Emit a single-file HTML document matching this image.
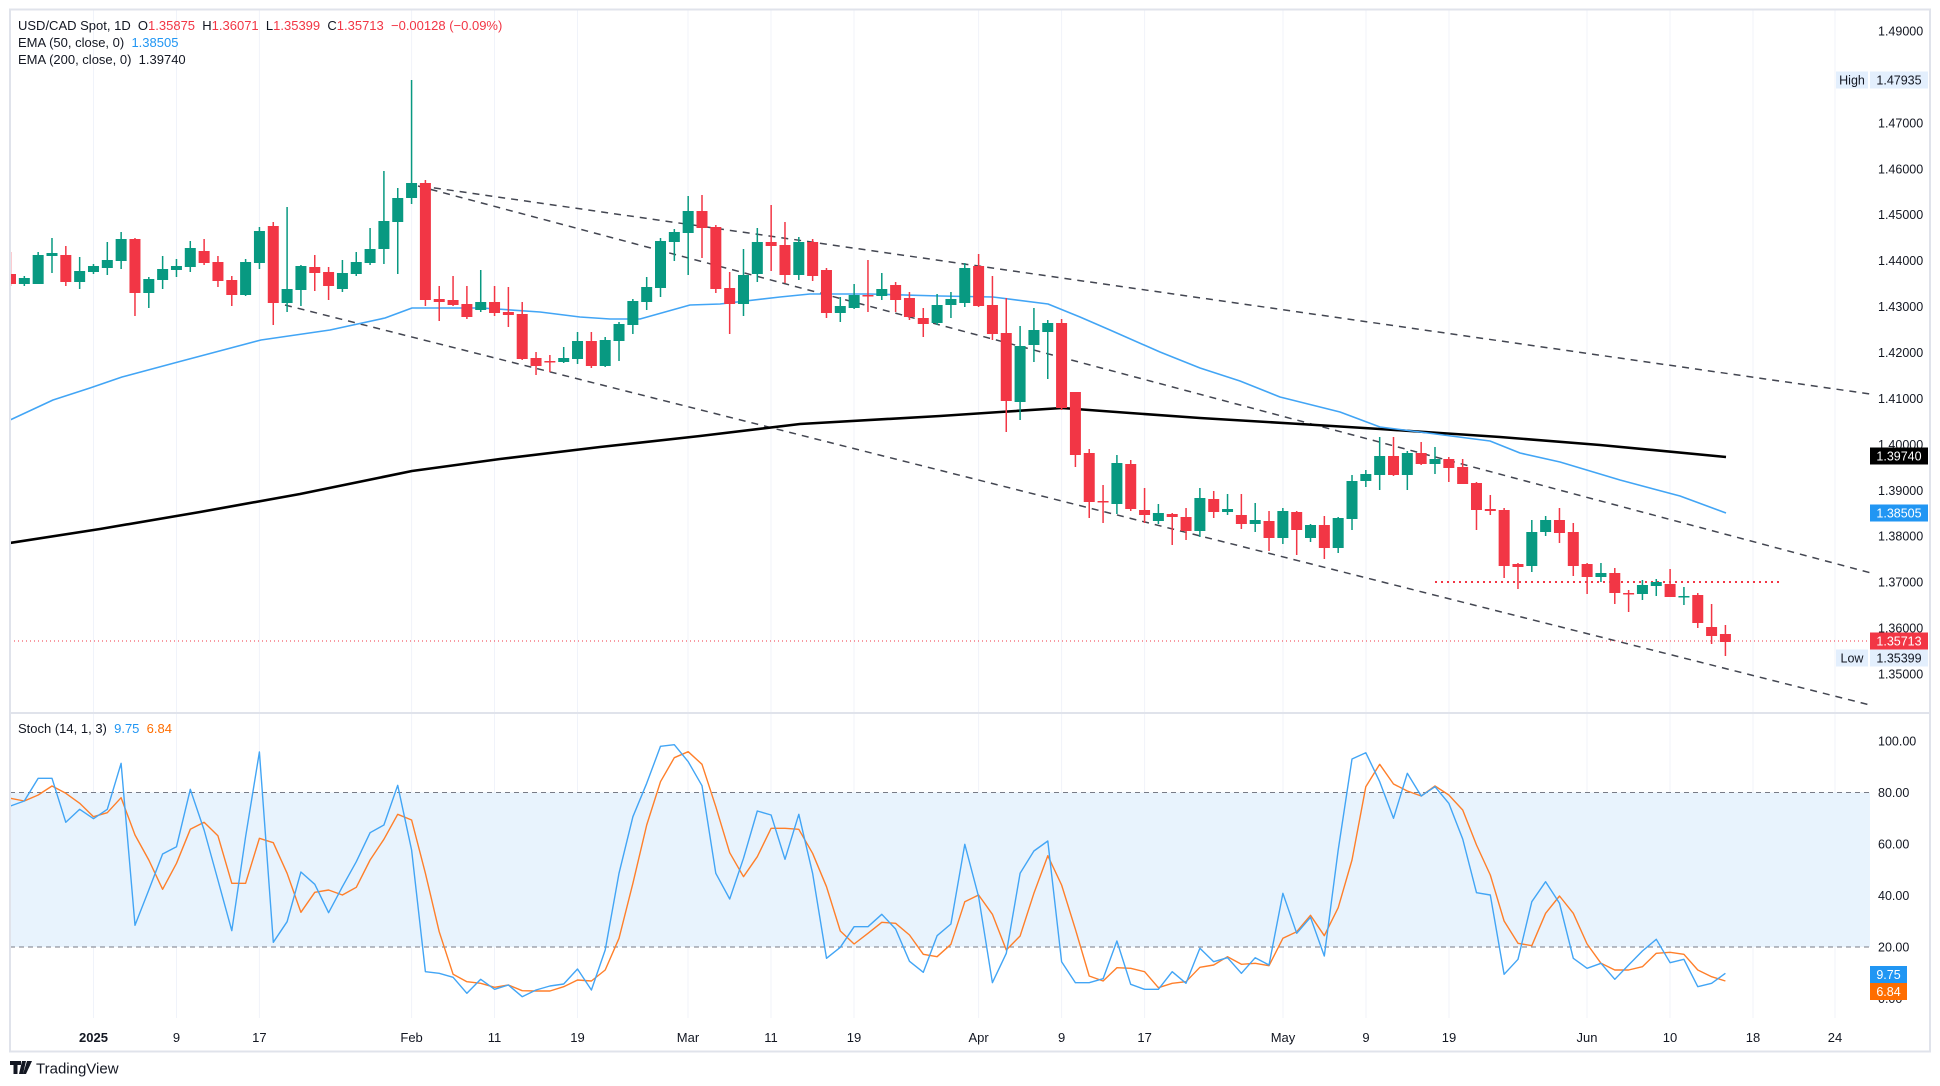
<!DOCTYPE html>
<html><head><meta charset="utf-8">
<style>
html,body{margin:0;padding:0;background:#fff;}
svg{display:block;font-family:"Liberation Sans",sans-serif;}
.pre{white-space:pre;}
</style></head>
<body>
<svg id="s" width="1940" height="1086" viewBox="0 0 1940 1086" xmlns="http://www.w3.org/2000/svg">
<defs>
<clipPath id="cm"><rect x="10" y="10" width="1860" height="703"/></clipPath>
<clipPath id="cs"><rect x="10" y="714" width="1860" height="300"/></clipPath>
</defs>
<rect x="0" y="0" width="1940" height="1086" fill="#fff"/>
<g id="grid"></g>
<rect x="10" y="792.5" width="1860" height="154.5" fill="#e8f3fd"/>
<line x1="10" y1="792.5" x2="1870" y2="792.5" stroke="#787b86" stroke-dasharray="5,4" stroke-width="1"/>
<line x1="10" y1="947" x2="1870" y2="947" stroke="#787b86" stroke-dasharray="5,4" stroke-width="1"/>
<g id="main" clip-path="url(#cm)"></g>
<g id="stoch" clip-path="url(#cs)"></g>
<g id="axis"></g>
<rect x="10" y="9.5" width="1920" height="1042" fill="none" stroke="#e0e3eb" stroke-width="2"/>
<line x1="10" y1="713" x2="1930" y2="713" stroke="#e0e3eb" stroke-width="2"/>
<g font-size="13" fill="#131722" class="pre">
<text x="18" y="30" class="pre">USD/CAD Spot, 1D  O<tspan fill="#f23645">1.35875</tspan>  H<tspan fill="#f23645">1.36071</tspan>  L<tspan fill="#f23645">1.35399</tspan>  C<tspan fill="#f23645">1.35713</tspan>  <tspan fill="#f23645">−0.00128 (−0.09%)</tspan></text>
<text x="18" y="47" class="pre">EMA (50, close, 0)  <tspan fill="#2196f3">1.38505</tspan></text>
<text x="18" y="64" class="pre">EMA (200, close, 0)  1.39740</text>
<text x="18" y="733" class="pre">Stoch (14, 1, 3)  <tspan fill="#2196f3">9.75</tspan>  <tspan fill="#ff6d00">6.84</tspan></text>
</g>
<g transform="translate(10,1061)">
<path d="M0 0h11v4h-3.5v9h-4v-9h-3.5z M12 0h4l-3 13h-4z M17 0h5l-6 13h-3z" fill="#131722"/>
<text x="26" y="12.5" font-size="15" fill="#131722">TradingView</text>
</g>
</svg>
<script>
const NS="http://www.w3.org/2000/svg";
function el(p,t,a,txt){const e=document.createElementNS(NS,t);for(const k in a)e.setAttribute(k,a[k]);if(txt!==undefined)e.textContent=txt;p.appendChild(e);return e;}
const main=document.getElementById('main'),st=document.getElementById('stoch'),ax=document.getElementById('axis'),gr=document.getElementById('grid');
const X=i=>10.5+13.83*i;
const tl=[[93.5,'2025',1],[176.5,'9'],[259.4,'17'],[411.6,'Feb'],[494.5,'11'],[577.5,'19'],[688,'Mar'],[771,'11'],[854,'19'],[978.6,'Apr'],[1061.6,'9'],[1144.6,'17'],[1283,'May'],[1366,'9'],[1449,'19'],[1587,'Jun'],[1670,'10'],[1753,'18'],[1835,'24']];
tl.forEach(t=>{el(gr,'line',{x1:t[0],x2:t[0],y1:10,y2:1018,stroke:'#f0f3fa','stroke-width':1});
el(ax,'text',{x:t[0],y:1042,'text-anchor':'middle','font-size':13,fill:'#131722','font-weight':t[2]?'bold':'normal'},t[1]);});
for(let k=0;k<=14;k++){const v=(1.49-k*0.01).toFixed(5);el(ax,'text',{x:1878,y:31+k*45.93+4.5,'font-size':12.5,fill:'#131722'},v);}
const sl=[[100,741],[80,792.5],[60,844],[40,895.5],[20,947],[0,998.5]];
sl.forEach(s=>el(ax,'text',{x:1878,y:s[1]+4.5,'font-size':12.5,fill:'#131722'},s[0].toFixed(2)));
[[421,186,1870,394],[418,186,1871,573],[285,305,1870,705]].forEach(l=>el(main,'line',{x1:l[0],y1:l[1],x2:l[2],y2:l[3],stroke:'#434651','stroke-width':1.5,'stroke-dasharray':'7,6'}));
el(main,'line',{x1:1435,y1:582,x2:1779,y2:582,stroke:'#f23645','stroke-width':2,'stroke-dasharray':'2,4'});
el(main,'line',{x1:10,y1:641,x2:1870,y2:641,stroke:'#f23645','stroke-width':1,'stroke-dasharray':'1,3'});
const e200=[[10,543],[100,529],[200,512],[300,494],[412,471],[500,459],[600,447],[700,436],[800,424],[940,416],[1000,412],[1062,408],[1130,413],[1200,418],[1300,424],[1380,429],[1500,437],[1600,445],[1726,457]];
el(main,'polyline',{points:e200.map(p=>p.join(',')).join(' '),fill:'none',stroke:'#000','stroke-width':2.6,'stroke-linejoin':'round'});
const e50=[[10,420],[53,400],[90,388],[122,377],[178,362],[261,340],[330,330],[385,318],[412,308],[482,308],[540,312],[580,317],[610,319],[640,319],[690,305],[720,304],[780,297],[810,294],[870,294],[940,296],[993,297],[1048,304],[1080,317],[1110,330],[1160,352],[1200,368],[1240,381],[1280,397],[1340,412],[1380,427],[1420,432],[1490,441],[1520,453],[1560,462],[1620,480],[1680,496],[1726,513]];
el(main,'polyline',{points:e50.map(p=>p.join(',')).join(' '),fill:'none',stroke:'#42a5f5','stroke-width':1.6,'stroke-linejoin':'round'});
const C=`r 274 284 252 286
g 278 284 276 286
g 255 284 252 284
g 253 256 238 273
r 255 282 246 286
g 271 282 257 289
g 266 272 264 274
g 260 268 242 275
g 239 261 232 269
r 239 293 238 316
g 279 293 277 308
g 269 280 256 289
g 266 270 259 277
g 248 267 241 272
r 251 263 239 265
r 262 281 256 287
r 280 295 276 306
g 262 295 259 296
g 231 263 227 269
r 226 303 222 325
g 289 303 207 312
g 266 290 265 306
r 267 273 255 291
r 272 286 267 300
g 273 289 260 292
g 262 274 252 276
g 249 263 228 265
g 221 249 171 264
g 198 222 188 274
g 183 198 80 204
r 183 300 180 306
r 299 302 286 321
r 300 305 276 306
r 304 317 286 319
g 302 310 270 312
r 302 313 286 316
r 312 315 287 327
r 314 359 302 360
r 358 366 352 375
r 361 362 355 372
g 358 362 347 363
g 341 359 332 364
r 341 366 332 368
g 340 366 337 367
g 324 341 322 361
g 301 325 299 334
g 287 302 277 310
g 241 288 238 297
g 232 242 229 261
g 211 233 196 275
r 211 228 195 258
r 227 289 225 293
r 288 304 272 334
g 275 304 249 316
g 242 274 228 282
r 242 246 205 271
r 245 275 222 283
g 242 275 237 280
r 242 276 239 281
r 270 313 268 318
g 306 313 297 322
g 295 308 284 309
r 295 296 260 312
g 289 296 273 300
r 285 300 282 312
r 298 317 292 320
r 318 324 308 337
g 305 323 294 325
g 299 305 292 318
g 268 303 263 307
r 266 306 254 307
r 305 334 276 340
r 333 401 298 432
g 346 402 326 420
g 330 345 308 362
g 323 332 320 379
r 323 408 319 410
r 392 455 392 467
r 453 502 449 518
r 501 502 485 523
g 463 504 455 514
r 464 509 460 511
r 510 515 488 523
g 513 521 504 524
r 514 517 513 545
r 517 531 508 540
g 498 531 488 537
r 499 512 491 518
g 509 512 494 515
r 515 524 494 529
g 520 524 503 532
r 521 538 511 551
g 511 538 508 544
r 512 530 511 555
g 525 538 524 542
r 525 548 516 559
g 518 548 517 553
g 481 519 475 530
g 474 481 470 487
g 456 475 437 490
r 456 475 437 476
g 453 475 451 490
r 453 464 442 465
g 459 464 447 474
r 459 468 457 482
r 467 484 459 484
r 483 510 482 530
r 509 511 495 515
r 510 566 508 578
r 564 567 563 589
g 532 566 520 572
g 520 532 516 536
r 520 533 508 543
r 532 566 523 576
r 564 577 563 594
g 573 577 563 582
r 573 593 568 604
r 593 594 590 612
g 585 594 580 600
g 582 586 579 596
r 584 597 569 597
g 596 597 587 605
r 595 623 593 628
r 627 636 604 644
r 634 642 625 656`.split('\n');
C.forEach((l,i)=>{const p=l.trim().split(/\s+/);const c=p[0]=='g'?'#089981':'#f23645';const a=+p[1],b=+p[2],h=+p[3],lo=+p[4];const x=X(i);
el(main,'rect',{x:x-0.75,y:h,width:1.5,height:lo-h,fill:c});
el(main,'rect',{x:x-5.5,y:a,width:11,height:Math.max(1.5,b-a),fill:c});});
const b7=[258,243,175,175,307,268,296,268,130,616,510,402,380,208,330,480,632,350,96,667,605,456,493,578,500,425,338,315,196,390,755,760,772,820,778,808,795,830,810,798,792,747,810,690,460,290,190,79,74,125,197,460,537,415,273,285,418,283,460,715,682,620,620];
const b8=[583,627,724,757,647,612,373,530,788,700,460,393,363,725,788,788,776,663,793,808,808,755,790,685,725,713,760,713,735,520,640,592,708,390,117,98,185,295,160,228,200,250,357,518,525,763,718,545,485,550,715,745,730,778,735,693,658,728,718,800,790,760];
const o7=[235,243,225,198,220,250,290,278,233,345,420,508,430,328,307,347,490,490,355,368,460,577,517,510,525,502,420,358,283,300,460,635,763,785,790,802,795,812,813,813,800,780,783,750,655,490,315,185,113,95,133,260,398,470,410,325,325,328,400,500,633,672,640];
const o8=[607,610,645,703,710,673,545,525,583,690,648,520,407,495,628,768,783,743,745,755,803,790,785,742,735,710,733,730,737,655,635,586,647,563,420,200,133,192,213,228,198,225,270,375,465,603,670,677,580,528,580,672,730,750,750,740,700,697,703,750,770,783];
const pl=(arr,col)=>el(st,'polyline',{points:arr.map((v,i)=>X(i).toFixed(1)+','+(720+v/3).toFixed(1)).join(' '),fill:'none',stroke:col,'stroke-width':1.4,'stroke-linejoin':'round'});
pl(o7.concat(o8),'#ff7f2a');
pl(b7.concat(b8),'#42a5f5');
function box(y,bg,fg,txt,x0,w){el(ax,'rect',{x:x0,y:y-8.5,width:w,height:17,fill:bg});el(ax,'text',{x:x0+w/2,y:y+4.5,'text-anchor':'middle','font-size':12.5,fill:fg},txt);}
box(80,'#e3effd','#131722','High',1836,32);box(80,'#e3effd','#131722','1.47935',1870,58);
box(456,'#000','#fff','1.39740',1870,58);
box(513,'#2196f3','#fff','1.38505',1870,58);
box(641,'#f23645','#fff','1.35713',1870,58);
box(658,'#e3effd','#131722','Low',1836,32);box(658,'#e3effd','#131722','1.35399',1870,58);
box(974.5,'#2196f3','#fff','9.75',1870,37);
box(991.5,'#ff6d00','#fff','6.84',1870,37);
</script>
</body></html>
